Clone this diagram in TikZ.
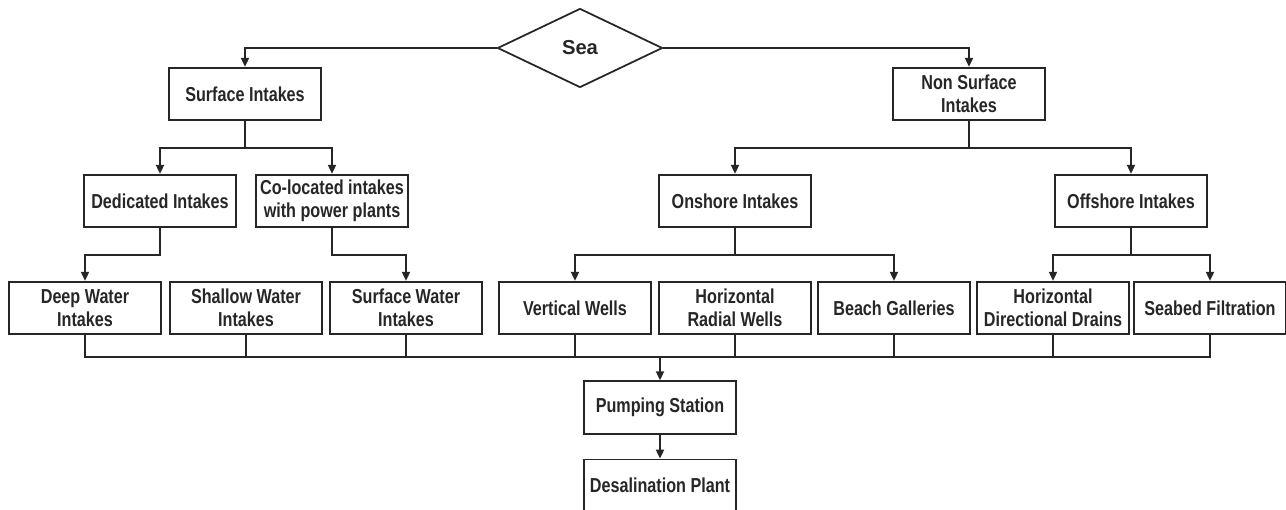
\documentclass[tikz,border=0pt]{standalone}
\usepackage{fontspec}
\setmainfont{Liberation Sans}[FakeStretch=0.8]
\newfontfamily\seafont{Liberation Sans}
\usetikzlibrary{shapes.geometric, positioning, arrows.meta}
\definecolor{inkgray}{RGB}{38,38,38}
\tikzset{
    intake/.style={draw=inkgray, line width=1pt, rectangle, minimum width=3.05cm,
        minimum height=1.05cm, align=center, inner sep=2pt, text=inkgray,
        font=\fontsize{11.5}{13.4}\selectfont\bfseries},
    flow/.style={draw=inkgray, line width=1pt, -{Triangle[length=1.8mm, width=1.6mm]}},
    link/.style={draw=inkgray, line width=1pt},
}

\begin{document}
\begin{tikzpicture}[x=0.02cm, y=-0.02cm]
            \useasboundingbox (0,0) rectangle (1286,510);

            \node[
                draw=inkgray,
                line width=1pt,
                diamond,
                aspect=2.1,
                minimum width=3.3cm,
                minimum height=1.58cm,
                inner sep=0pt,
                text=inkgray,
                font=\seafont\fontsize{11.5}{13.4}\selectfont\bfseries
            ] (sea) at (580,48) {Sea};

            % first split
            \node[intake] (surf) at (245,94) {Surface Intakes};
            \node[intake] (nonsurf) at (969,94) {Non Surface\\Intakes};

            % second split
            \node[intake] (dedic) at (160,201) {Dedicated Intakes};
            \node[intake] (coloc) at (332,201) {Co-located intakes\\with power plants};
            \node[intake] (onshore) at (735,201) {Onshore Intakes};
            \node[intake] (offshore) at (1131,201) {Offshore Intakes};

            % intake types
            \node[intake] (deep) at (85,308) {Deep Water\\Intakes};
            \node[intake] (shallow) at (246,308) {Shallow Water\\Intakes};
            \node[intake] (surfwater) at (406,308) {Surface Water\\Intakes};
            \node[intake] (vertical) at (575,308) {Vertical Wells};
            \node[intake] (radial) at (735,308) {Horizontal\\Radial Wells};
            \node[intake] (beach) at (894,308) {Beach Galleries};
            \node[intake] (drains) at (1053,308) {Horizontal\\Directional Drains};
            \node[intake] (seabed) at (1210,308) {Seabed Filtration};

            % plant
            \node[intake] (pump) at (660,407.5) {Pumping Station};
            \node[intake, below=0.48cm of pump] (desal) {Desalination Plant};

            \draw[flow] (sea.west) -| (surf.north);
            \draw[flow] (sea.east) -| (nonsurf.north);

            \foreach \kid in {dedic, coloc}
                \draw[flow] (surf.south) -- ++(0,27) -| (\kid.north);
            \foreach \kid in {onshore, offshore}
                \draw[flow] (nonsurf.south) -- ++(0,27) -| (\kid.north);

            \draw[flow] (dedic.south) -- ++(0,27) -| (deep.north);
            \draw[flow] (coloc.south) -- ++(0,27) -| (surfwater.north);
            \foreach \kid in {vertical, beach}
                \draw[flow] (onshore.south) -- ++(0,27) -| (\kid.north);
            \foreach \kid in {drains, seabed}
                \draw[flow] (offshore.south) -- ++(0,27) -| (\kid.north);

            % collecting line
            \coordinate (bus) at (660,357);
            \draw[link] (deep.south) |- (bus) -| (seabed.south);
            \foreach \src in {shallow, surfwater, vertical, radial, beach, drains}
                \draw[link] (\src.south) -- (\src.south |- bus);

            \draw[flow] (bus) -- (pump.north);
            \draw[flow] (pump) -- (desal);

        \end{tikzpicture}
\end{document}
